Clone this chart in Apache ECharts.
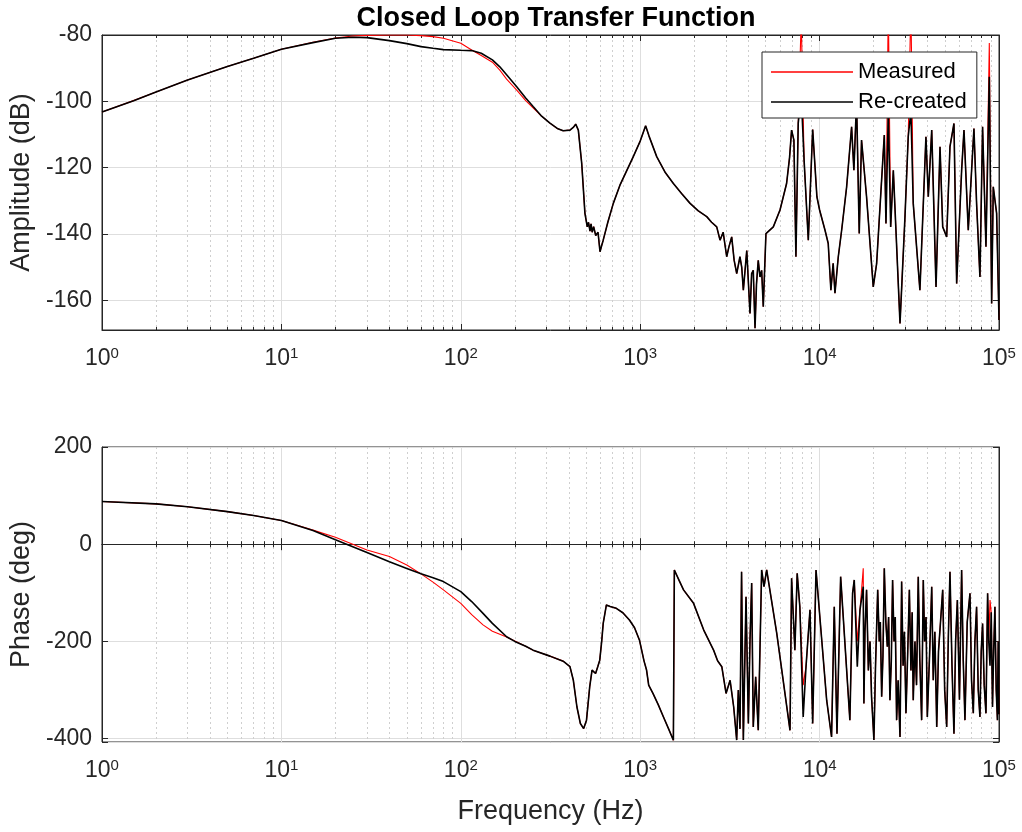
<!DOCTYPE html>
<html><head><meta charset="utf-8">
<script src="https://cdn.jsdelivr.net/npm/echarts@6/dist/echarts.min.js"></script>
<style>html,body{margin:0;padding:0;background:#fff}#c{width:1022px;height:832px}</style>
</head><body><div id="c"></div><script>
// ---------- data ----------
const ampFreqLow = [1,1.5,2,3,5,7,10,15,20,25,30,40,50,60,70,80,100,115,130,150,165,180,205,230,253];
const ampRecLow  = [-103.2,-99.8,-97.2,-93.6,-89.5,-87.0,-84.3,-82.3,-81.0,-80.7,-80.8,-81.7,-82.6,-83.5,-84.0,-84.4,-84.6,-84.7,-85.5,-87.5,-89.6,-92.0,-95.6,-99.0,-101.6];
const ampMeasLow = [-103.2,-99.8,-97.2,-93.6,-89.5,-87.0,-84.3,-82.2,-80.9,-80.3,-80.1,-80.0,-80.0,-80.2,-80.5,-81.0,-82.5,-84.5,-86.2,-88.2,-90.6,-93.3,-96.6,-99.8,-102.0];

const ampFreqHigh = [280,314,345,372,406,425,437,452,472,492,507,515,525,532,540,550,565,582,597,610,622,660,708,771,840,915,1000,1072,1120,1236,1380,1531,1700,1897,2100,2349,2500,2670,2786,2900,3035,3120,3236,3340,3451,3597,3680,3758,3926,4093,4180,4268,4365,4450,4550,4653,4753,4853,5023,5521,6015,6546,6800,6980,7190,7380,7600,7900,8200,8650,9150,9660,10000,10720,11170,11560,11900,12180,12710,13270,14150,15080,15530,16070,16630,17130,18270,19910,20790,22940,23440,24150,24900,25760,28070,29920,31190,32280,33260,36240,39150,40350,42170,44560,46900,48550,51100,53300,56100,58070,61900,63800,67400,72500,75000,78300,81000,84600,88300,91000,92900,97000,100000];
const ampHigh = [-104.3,-106.6,-108.2,-108.9,-108.7,-107.8,-106.9,-108.7,-118.7,-133.8,-137.9,-136.5,-139.2,-137.0,-139.5,-137.8,-140.5,-139.5,-145.4,-143.5,-141.9,-136.5,-130.8,-125.3,-121.0,-116.7,-112.0,-107.4,-110.5,-116.7,-121.5,-124.8,-127.8,-130.8,-133.0,-134.8,-136.5,-137.9,-141.9,-139.5,-146.9,-144.0,-140.9,-148.0,-152.0,-146.9,-150.0,-157.0,-145.0,-164.0,-152.0,-151.0,-168.5,-155.0,-148.0,-153.0,-151.0,-162.0,-139.9,-137.9,-132.8,-124.8,-117.0,-108.7,-111.7,-146.9,-106.6,-98.0,-118.0,-141.9,-108.5,-128.8,-132.8,-138.9,-142.9,-157.0,-148.9,-157.9,-146.9,-138.9,-125.8,-107.7,-120.8,-100.0,-139.9,-111.7,-128.8,-156.0,-149.0,-110.2,-136.9,-103.0,-137.9,-120.8,-167.0,-134.8,-110.7,-103.0,-130.8,-157.0,-110.7,-128.8,-108.7,-156.0,-113.7,-137.9,-140.9,-113.7,-106.7,-155.0,-120.8,-108.7,-138.9,-108.2,-130.8,-153.0,-107.7,-143.9,-92.6,-161.0,-125.8,-133.8,-166.0];
const ampSpikeFreq = [7900,24150,32280,88300];
const ampSpikeMeas = [-75,-70,-70,-82.4];

const phaseFreqLow = [1,2,3,5,7,10,15,20,30,40,50,60,70,80,100,115,133,150,180,200,230];
const phaseRecLow  = [87.8,83,77,67,59,48.7,28,9,-17,-36,-50,-61,-69,-77,-97.7,-118,-142.3,-163,-190.5,-200,-210];
const phaseMeasLow = [87.8,83,77,67,59,48.7,29,14.4,-11.8,-25.5,-42.7,-61,-78,-94,-121.7,-145,-166,-179,-191,-199,-210];

const phaseFreqHigh = [253,314,372,406,424,444,464,484,502,523,539,552,564,580,595,610,622,648,680,736,800,871,930,990,1050,1085,1115,1178,1260,1348,1440,1531,1550,1650,1744,1984,2260,2565,2700,2850,3010,3170,3320,3450,3523,3600,3673,3758,3889,4008,4093,4182,4268,4402,4550,4753,4898,5070,5770,6840,6980,7280,7500,7760,8100,8400,8840,9150,9550,10950,11660,12070,12500,13100,14750,15270,15600,16220,16790,17510,17660,17900,18270,18700,19100,19480,20080,20500,21080,21500,21800,22180,22550,22940,23400,23850,24250,24660,25100,25520,26000,26400,26870,27400,28070,28660,29200,29700,30300,31000,31650,32300,32800,33260,34000,34700,35470,36200,37050,37840,38500,39200,39850,41000,42170,43000,43900,44970,46000,47200,48550,49800,51100,52200,53300,54700,56100,57300,58600,60200,61900,63200,64600,66500,68900,70300,71900,73400,75000,76600,78300,79600,81000,82700,84600,86400,87700,89100,90500,92000,93400,94900,96500,98000,99000,100000];
const phaseHigh = [-218,-230.3,-240.6,-252,-280,-335,-369,-379.4,-362,-293.6,-259,-262,-266,-252,-238.6,-200,-163,-125,-128,-132,-141,-156,-172,-197,-240,-259,-290,-307,-330,-355.5,-380,-403.5,-53,-75,-94,-121.7,-176.7,-218,-240,-252,-307,-280,-335,-403,-300,-380,-56.5,-403,-108,-369,-197,-80,-376,-273,-383,-53,-87.4,-53,-183.5,-383,-70,-218,-60,-128.6,-355.5,-252,-135,-369,-53,-321,-396.7,-128.6,-390,-66.8,-362,-101,-73.6,-252,-135.5,-87.4,-328,-180,-94,-260,-200,-314,-403,-250,-94,-200,-160,-314,-230,-49.5,-160,-211,-150,-321,-240,-73.6,-200,-150,-362,-280,-396.7,-77,-250,-180,-348,-220,-94,-260,-140,-321,-200,-290,-66.8,-240,-362,-73.6,-200,-150,-355.5,-230,-87.4,-280,-180,-376,-220,-160,-94,-300,-376,-190,-56.5,-250,-390,-200,-115,-320,-53,-240,-362,-160,-101,-280,-348,-200,-128.6,-300,-355.5,-220,-163,-290,-348,-101,-200,-250,-140,-335,-220,-128.6,-300,-362,-200,-350];
const phaseSpikeFreq = [8100,16220,17510,89100];
const phaseSpikeMeas = [-290,-200,-49.5,-115];

const xTickExponents = [0,1,2,3,4,5];
const ampTicks = [-160,-140,-120,-100,-80];
const phaseTicks = [-400,-200,0,200];

// ---------- build series ----------
function pairs(f, v) { return f.map((x, i) => [x, v[i]]); }
function withSpikes(f, v, sf, sv) {
  const m = new Map(sf.map((x, i) => [x, sv[i]]));
  return f.map((x, i) => [x, m.has(x) ? m.get(x) : v[i]]);
}
const ampRec = pairs(ampFreqLow, ampRecLow).concat(pairs(ampFreqHigh, ampHigh));
const ampMeas = pairs(ampFreqLow, ampMeasLow).concat(withSpikes(ampFreqHigh, ampHigh, ampSpikeFreq, ampSpikeMeas));
const phRec = pairs(phaseFreqLow, phaseRecLow).concat(pairs(phaseFreqHigh, phaseHigh));
const phMeas = pairs(phaseFreqLow, phaseMeasLow).concat(withSpikes(phaseFreqHigh, phaseHigh, phaseSpikeFreq, phaseSpikeMeas));

const FONT = '"Liberation Sans", Arial, Helvetica, sans-serif';
const AX = '#262626';

function xAxisDef(grid, pos, showLabel, name) {
  return {
    type: 'log', logBase: 10, min: 1, max: 100000, gridIndex: grid, position: pos,
    splitNumber: 5,
    axisLine: { show: true, lineStyle: { color: AX, width: 1 } },
    axisTick: { show: true, inside: true, length: 6, lineStyle: { color: AX } },
    minorTick: { show: true, splitNumber: 9, length: 3, lineStyle: { color: AX } },
    splitLine: { show: pos === 'bottom', lineStyle: { color: '#dedede', width: 1 } },
    minorSplitLine: { show: pos === 'bottom', lineStyle: { color: '#cfcfcf', width: 1, type: [2, 3] } },
    axisLabel: {
      show: showLabel, margin: 16, color: AX, fontFamily: FONT,
      formatter: v => { const e = Math.round(Math.log10(v)); return xTickExponents.includes(e) ? '{b|10}{s|' + e + '}' : ''; },
      rich: { b: { fontSize: 23, fontFamily: FONT, color: AX }, s: { fontSize: 15, fontFamily: FONT, color: AX, padding: [0, 0, 11, 0] } }
    },
    name: name || '', nameLocation: 'middle', nameGap: 56,
    nameTextStyle: { fontSize: 27, fontFamily: FONT, color: AX }
  };
}
function yAxisDef(grid, pos, min, max, split, ticks, name) {
  return {
    type: 'value', gridIndex: grid, position: pos, min: min, max: max, splitNumber: split,
    axisLine: { show: true, lineStyle: { color: AX, width: 1 } },
    axisTick: { show: true, inside: true, length: 6, lineStyle: { color: AX } },
    splitLine: { show: pos === 'left', lineStyle: { color: '#dedede', width: 1 } },
    axisLabel: {
      show: pos === 'left', margin: 10, color: AX, fontSize: 23, fontFamily: FONT,
      formatter: v => ticks.includes(v) ? String(v) : ''
    },
    name: name || '', nameLocation: 'middle', nameGap: 62,
    nameTextStyle: { fontSize: 27, fontFamily: FONT, color: AX }
  };
}

const chart = echarts.init(document.getElementById('c'), null, { renderer: 'canvas' });
chart.setOption({
  animation: false,
  backgroundColor: '#fff',
  title: {
    text: 'Closed Loop Transfer Function', left: 551, top: 0, textAlign: 'center',
    textStyle: { fontSize: 27, fontWeight: 'bold', fontFamily: FONT, color: '#000' }
  },
  legend: {
    data: ['Measured', 'Re-created'], orient: 'vertical', left: 762, top: 52,
    icon: 'rect', itemWidth: 82, itemHeight: 1.6, itemGap: 6,
    padding: [8, 10, 4, 9],
    backgroundColor: '#fff', borderColor: AX, borderWidth: 1, borderRadius: 0,
    textStyle: { fontSize: 22, fontFamily: FONT, color: '#000', lineHeight: 24 },
    z: 10
  },
  grid: [
    { left: 102, right: 23, top: 35, height: 295, show: true, borderColor: AX, borderWidth: 1, backgroundColor: '#fff' },
    { left: 102, right: 23, top: 447, height: 295, show: true, borderColor: AX, borderWidth: 1, backgroundColor: '#fff' }
  ],
  xAxis: [
    xAxisDef(0, 'bottom', true),
    xAxisDef(0, 'top', false),
    xAxisDef(1, 'bottom', true, 'Frequency (Hz)'),
    xAxisDef(1, 'top', false)
  ],
  yAxis: [
    yAxisDef(0, 'left', -169, -80, 5, ampTicks, 'Amplitude (dB)'),
    yAxisDef(0, 'right', -169, -80, 5, ampTicks),
    yAxisDef(1, 'left', -407, 200, 3, phaseTicks, 'Phase (deg)'),
    yAxisDef(1, 'right', -407, 200, 3, phaseTicks)
  ],
  series: [
    { name: 'Measured', type: 'line', xAxisIndex: 0, yAxisIndex: 0, data: ampMeas, showSymbol: false, symbol: 'none', clip: true, lineStyle: { color: '#ff0000', width: 1.1 }, itemStyle: { color: '#ff0000' } },
    { name: 'Re-created', type: 'line', xAxisIndex: 0, yAxisIndex: 0, data: ampRec, showSymbol: false, symbol: 'none', clip: true, lineStyle: { color: '#000', width: 1.6 }, itemStyle: { color: '#000' } },
    { name: 'Measured', type: 'line', xAxisIndex: 2, yAxisIndex: 2, data: phMeas, showSymbol: false, symbol: 'none', clip: true, lineStyle: { color: '#ff0000', width: 1.1 }, itemStyle: { color: '#ff0000' } },
    { name: 'Re-created', type: 'line', xAxisIndex: 2, yAxisIndex: 2, data: phRec, showSymbol: false, symbol: 'none', clip: true, lineStyle: { color: '#000', width: 1.6 }, itemStyle: { color: '#000' } }
  ]
});
</script></body></html>
